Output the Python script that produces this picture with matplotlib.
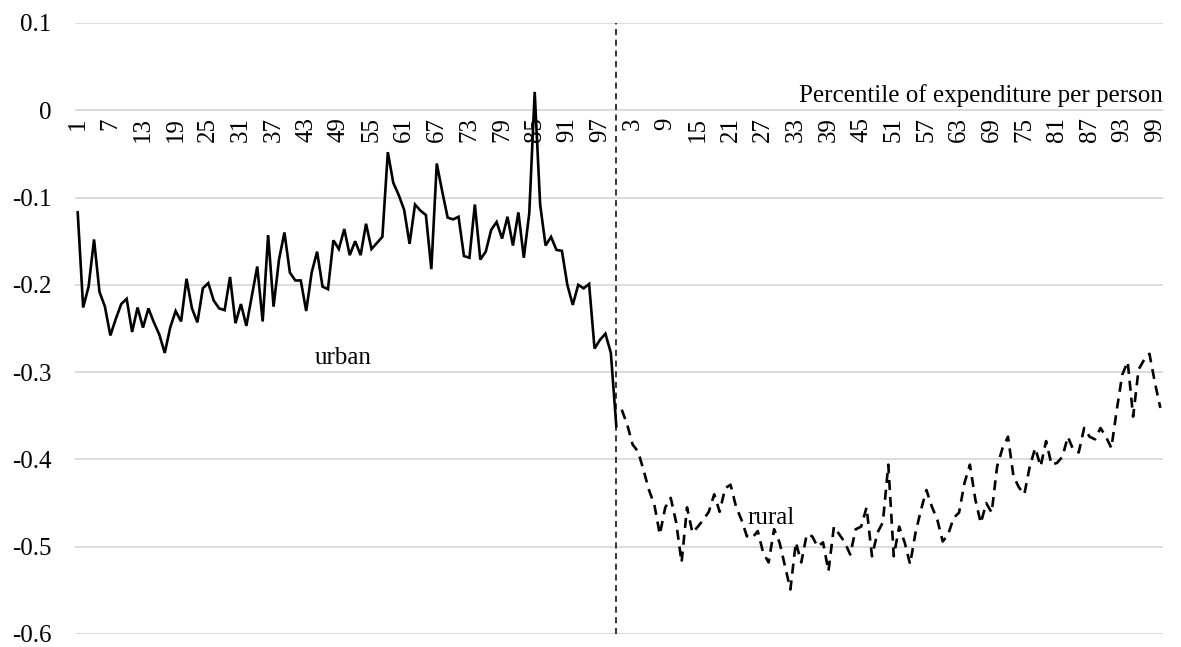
import matplotlib.pyplot as plt
import numpy as np

# urban and rural series, percentile 1..100 each
urban = [-0.117, -0.226, -0.202, -0.148, -0.208, -0.225, -0.258, -0.239, -0.222, -0.216,
         -0.254, -0.226, -0.249, -0.227, -0.243, -0.257, -0.278, -0.249, -0.230, -0.242,
         -0.193, -0.227, -0.243, -0.204, -0.198, -0.218, -0.227, -0.229, -0.191, -0.244,
         -0.222, -0.247, -0.213, -0.179, -0.242, -0.143, -0.225, -0.171, -0.140, -0.186,
         -0.195, -0.195, -0.230, -0.186, -0.162, -0.202, -0.205, -0.149, -0.159, -0.136,
         -0.166, -0.150, -0.166, -0.130, -0.159, -0.152, -0.145, -0.048, -0.083, -0.097,
         -0.114, -0.153, -0.108, -0.115, -0.120, -0.182, -0.061, -0.093, -0.123, -0.125,
         -0.122, -0.167, -0.169, -0.108, -0.171, -0.162, -0.137, -0.128, -0.147, -0.122,
         -0.155, -0.117, -0.169, -0.118, 0.021, -0.108, -0.155, -0.145, -0.160, -0.161,
         -0.200, -0.223, -0.200, -0.204, -0.199, -0.273, -0.263, -0.256, -0.278, -0.362]

rural = [-0.343, -0.360, -0.383, -0.391, -0.412, -0.435, -0.452, -0.486, -0.455, -0.444,
         -0.472, -0.518, -0.455, -0.484, -0.477, -0.469, -0.460, -0.440, -0.460, -0.433,
         -0.429, -0.454, -0.469, -0.488, -0.490, -0.482, -0.507, -0.518, -0.480, -0.495,
         -0.522, -0.549, -0.495, -0.518, -0.486, -0.488, -0.500, -0.495, -0.528, -0.477,
         -0.486, -0.495, -0.509, -0.480, -0.477, -0.455, -0.511, -0.484, -0.472, -0.406,
         -0.511, -0.477, -0.495, -0.520, -0.484, -0.458, -0.435, -0.454, -0.469, -0.494,
         -0.486, -0.467, -0.461, -0.427, -0.406, -0.446, -0.473, -0.450, -0.461, -0.408,
         -0.387, -0.374, -0.419, -0.432, -0.440, -0.408, -0.387, -0.408, -0.379, -0.406,
         -0.404, -0.397, -0.374, -0.389, -0.392, -0.364, -0.374, -0.377, -0.364, -0.374,
         -0.387, -0.343, -0.303, -0.288, -0.351, -0.297, -0.286, -0.279, -0.312, -0.341]

percentiles = list(range(1, 101))
y_ticks = [-0.6, -0.5, -0.4, -0.3, -0.2, -0.1, 0, 0.1]
y_labels = ['-0.6', '-0.5', '-0.4', '-0.3', '-0.2', '-0.1', '0', '0.1']

plt.rcParams['font.family'] = ['Liberation Serif', 'DejaVu Serif']

n = len(urban)
x_urban = np.arange(1, n + 1)
x_rural = np.arange(n + 1, 2 * n + 1)
all_labels = percentiles + percentiles

fig = plt.figure(figsize=(11.81, 6.47), dpi=100)
ax = fig.add_axes([0.0635, 0.0201, 0.9213, 0.9444])

# x axis sits on y = 0 (set before ticks, it resets them)
ax.spines['bottom'].set_position(('data', 0))
for s in ax.spines.values():
    s.set_visible(False)

ax.plot(x_urban, urban, color='black', lw=1.9, solid_joinstyle='miter')
ax.plot(x_rural, rural, color='black', lw=1.9, dashes=(3.8, 2.6))

# divider between urban and rural
ax.vlines(n, -0.6, 0.1, colors='black', lw=1.1, linestyles=(0, (4, 3)))

ax.set_xlim(0.5, 2 * n + 0.5)
ax.set_ylim(-0.6, 0.1)
ax.set_yticks(y_ticks)
ax.set_yticklabels(y_labels)

tick_pos = list(range(1, 2 * n + 1, 6))
ax.set_xticks(tick_pos)
ax.set_xticklabels([str(all_labels[p - 1]) for p in tick_pos])

ax.tick_params(axis='x', length=0, pad=5, labelsize=18, labelrotation=90)
ax.tick_params(axis='y', length=0, pad=17, labelsize=18)
ax.grid(axis='y', color='#d9d9d9', lw=1.3)
ax.set_axisbelow(True)

ax.text(49.8, -0.284, 'urban', fontsize=18, ha='center', va='center')
ax.text(128.4, -0.467, 'rural', fontsize=18, ha='center', va='center')
ax.text(2 * n + 0.5, 0.009, 'Percentile of expenditure per person', fontsize=18,
        ha='right', va='baseline')

fig.savefig('out.png', dpi=100)
